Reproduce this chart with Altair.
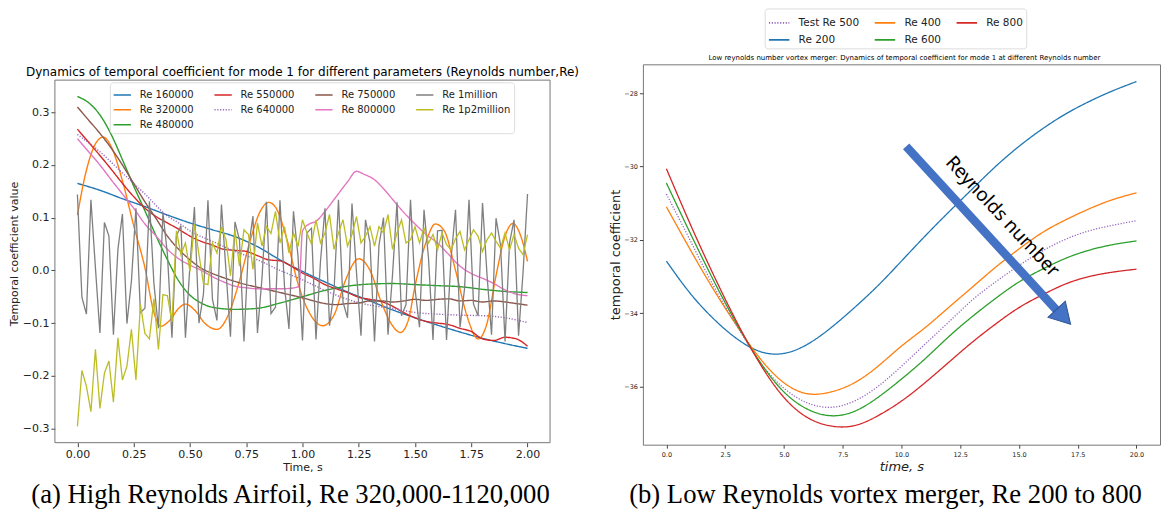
import altair as alt
import pandas as pd

# ---------------- Left panel: high Reynolds airfoil ----------------
left_title = "Dynamics of temporal coefficient for mode 1 for different parameters (Reynolds number,Re)"
caption_a = "(a) High Reynolds Airfoil, Re 320,000-1120,000"

legend_order_left = ["Re 160000", "Re 550000", "Re 750000", "Re 1million",
                     "Re 320000", "Re 640000", "Re 800000", "Re 1p2million",
                     "Re 480000"]
legend_colors_left = ["#1f77b4", "#d62728", "#8c564b", "#7f7f7f",
                      "#ff7f0e", "#9467bd", "#e377c2", "#bcbd22",
                      "#2ca02c"]
legend_dash_left = [[1, 0], [1, 0], [1, 0], [1, 0],
                    [1, 0], [1.2, 1.6], [1, 0], [1, 0],
                    [1, 0]]

re160_t = [0, 0.1, 0.2, 0.3, 0.4, 0.5, 0.6, 0.7, 0.8, 0.9, 1.0, 1.1, 1.2, 1.3, 1.4, 1.5, 1.6, 1.7, 1.8, 1.9, 2.0]
re160_v = [0.165, 0.152, 0.136, 0.121, 0.105, 0.090, 0.077, 0.064, 0.045, 0.020, -0.002, -0.022, -0.041,
           -0.058, -0.075, -0.090, -0.104, -0.117, -0.129, -0.139, -0.148]

re320_t = [0, 0.04, 0.08, 0.115, 0.15, 0.2, 0.25, 0.3, 0.34, 0.37, 0.41, 0.45, 0.48, 0.52, 0.57, 0.62,
           0.67, 0.72, 0.77, 0.81, 0.85, 0.88, 0.93, 0.98, 1.03, 1.09, 1.14, 1.19, 1.25, 1.30, 1.35,
           1.40, 1.435, 1.47, 1.50, 1.55, 1.59, 1.63, 1.68, 1.73, 1.78, 1.82, 1.86, 1.90, 1.935, 1.97, 2.0]
re320_v = [0.105, 0.19, 0.24, 0.253, 0.235, 0.17, 0.085, 0.005, -0.08, -0.106, -0.095, -0.072, -0.064,
           -0.075, -0.102, -0.112, -0.085, -0.02, 0.06, 0.11, 0.129, 0.12, 0.06, -0.025, -0.08, -0.105,
           -0.085, -0.02, 0.022, 0.0, -0.06, -0.105, -0.118, -0.095, -0.03, 0.055, 0.088, 0.075, 0.0,
           -0.085, -0.13, -0.10, -0.01, 0.065, 0.089, 0.065, 0.017]

re480_t = [0, 0.05, 0.1, 0.15, 0.2, 0.25, 0.3, 0.35, 0.4, 0.45, 0.5, 0.55, 0.6, 0.7, 0.8, 0.9, 1.0,
           1.1, 1.2, 1.3, 1.4, 1.5, 1.6, 1.7, 1.8, 1.9, 2.0]
re480_v = [0.330, 0.318, 0.295, 0.258, 0.210, 0.160, 0.113, 0.065, 0.020, -0.020, -0.047, -0.062, -0.070,
           -0.074, -0.072, -0.062, -0.050, -0.038, -0.030, -0.026, -0.025, -0.027, -0.029, -0.031,
           -0.036, -0.040, -0.042]

re550_t = [0, 0.05, 0.1, 0.15, 0.2, 0.25, 0.3, 0.35, 0.4, 0.45, 0.5, 0.55, 0.6, 0.65, 0.7, 0.75, 0.8,
           0.85, 0.9, 0.95, 1.0, 1.05, 1.1, 1.15, 1.2, 1.25, 1.3, 1.35, 1.4, 1.45, 1.5, 1.55, 1.6, 1.65,
           1.7, 1.75, 1.8, 1.85, 1.9, 1.95, 2.0]
re550_v = [0.268, 0.243, 0.218, 0.192, 0.165, 0.140, 0.118, 0.102, 0.090, 0.078, 0.065, 0.055, 0.048,
           0.040, 0.038, 0.036, 0.028, 0.020, 0.018, 0.008, -0.005, -0.015, -0.027, -0.035, -0.042,
           -0.051, -0.055, -0.059, -0.068, -0.080, -0.090, -0.097, -0.100, -0.103, -0.110, -0.116,
           -0.130, -0.133, -0.127, -0.130, -0.144]

re640_t = [0, 0.1, 0.2, 0.3, 0.4, 0.45, 0.5, 0.6, 0.7, 0.8, 0.9, 1.0, 1.1, 1.2, 1.3, 1.4, 1.5, 1.6,
           1.7, 1.8, 1.9, 2.0]
re640_v = [0.258, 0.225, 0.185, 0.145, 0.103, 0.090, 0.075, 0.055, 0.036, 0.020, 0.000, -0.018,
           -0.038, -0.055, -0.066, -0.072, -0.080, -0.083, -0.085, -0.086, -0.090, -0.099]

re750_t = [0, 0.05, 0.1, 0.15, 0.2, 0.25, 0.3, 0.35, 0.4, 0.45, 0.5, 0.55, 0.6, 0.65, 0.7, 0.75, 0.8,
           0.85, 0.9, 0.95, 1.0, 1.05, 1.1, 1.15, 1.2, 1.25, 1.3, 1.35, 1.4, 1.45, 1.5, 1.55, 1.6,
           1.65, 1.7, 1.75, 1.8, 1.85, 1.9, 1.95, 2.0]
re750_v = [0.310, 0.285, 0.260, 0.232, 0.200, 0.165, 0.130, 0.098, 0.065, 0.040, 0.020, 0.004, -0.006,
           -0.014, -0.021, -0.027, -0.032, -0.037, -0.042, -0.047, -0.052, -0.058, -0.063, -0.065,
           -0.063, -0.062, -0.058, -0.058, -0.060, -0.058, -0.055, -0.057, -0.055, -0.054, -0.058,
           -0.057, -0.060, -0.058, -0.060, -0.063, -0.066]

re800_t = [0, 0.05, 0.1, 0.15, 0.2, 0.25, 0.3, 0.35, 0.4, 0.45, 0.5, 0.55, 0.6, 0.65, 0.7, 0.75, 0.8,
           0.85, 0.9, 0.95, 0.985, 1.0, 1.03, 1.06, 1.1, 1.15, 1.2, 1.24, 1.27, 1.32, 1.36, 1.4, 1.45,
           1.5, 1.55, 1.6, 1.65, 1.7, 1.75, 1.8, 1.85, 1.9, 1.95, 2.0]
re800_v = [0.250, 0.225, 0.200, 0.172, 0.145, 0.118, 0.088, 0.065, 0.040, 0.022, 0.010, 0.000, -0.012,
           -0.022, -0.030, -0.033, -0.035, -0.035, -0.035, -0.034, -0.030, 0.075, 0.088, 0.093, 0.112,
           0.140, 0.168, 0.188, 0.183, 0.172, 0.155, 0.135, 0.110, 0.088, 0.068, 0.052, 0.030, 0.008,
           -0.006, -0.015, -0.025, -0.037, -0.045, -0.048]

sample_t = [round(0.02 * i, 2) for i in range(101)]
re1m_v = [0.144, -0.051, -0.083, 0.134, 0.005, -0.119, 0.091, 0.065, -0.122, 0.040,
          0.107, -0.101, -0.020, 0.118, -0.080, -0.072, 0.131, -0.025, -0.110, 0.110,
          0.030, -0.128, 0.065, 0.085, -0.128, 0.010, 0.120, -0.100, -0.045, 0.133,
          -0.055, -0.095, 0.125, 0.000, -0.126, 0.092, 0.058, -0.135, 0.043, 0.103,
          -0.119, -0.015, 0.130, -0.082, -0.070, 0.133, -0.030, -0.111, 0.112, 0.028,
          -0.133, 0.071, 0.080, -0.131, 0.017, 0.118, -0.105, -0.040, 0.134, -0.060,
          -0.090, 0.127, -0.004, -0.124, 0.096, 0.053, -0.135, 0.048, 0.100, -0.122,
          -0.009, 0.129, -0.086, -0.065, 0.134, -0.035, -0.108, 0.115, 0.023, -0.132,
          0.075, 0.076, -0.132, 0.022, 0.115, -0.108, -0.035, 0.134, -0.064, -0.086,
          0.128, -0.009, -0.122, 0.099, 0.048, -0.135, 0.052, 0.096, -0.124, -0.004,
          0.145]
re12m_v = [-0.296, -0.190, -0.220, -0.268, -0.150, -0.262, -0.195, -0.172, -0.250, -0.128,
           -0.208, -0.182, -0.112, -0.208, -0.065, -0.120, -0.130, -0.054, -0.150, -0.046,
           -0.048, -0.098, 0.075, 0.030, 0.052, -0.002, 0.088, 0.030, -0.025, -0.027,
           0.052, 0.033, 0.083, 0.058, -0.010, 0.077, 0.008, 0.077, 0.068, 0.002,
           0.090, 0.046, 0.083, 0.070, 0.112, 0.052, 0.083, 0.033, 0.071, 0.045,
           0.096, 0.071, 0.050, 0.096, 0.052, 0.071, 0.106, 0.040, 0.071, 0.096,
           0.046, 0.068, 0.102, 0.052, 0.065, 0.083, 0.046, 0.083, 0.071, 0.106,
           0.040, 0.071, 0.096, 0.052, 0.058, 0.083, 0.052, 0.080, 0.052, 0.068,
           0.039, 0.071, 0.049, 0.039, 0.060, 0.074, 0.039, 0.058, 0.077, 0.065,
           0.036, 0.058, 0.071, 0.055, 0.042, 0.071, 0.039, 0.068, 0.042, 0.030,
           0.068]

# ---------------- Right panel: low Reynolds vortex merger ----------------
right_title = ("Low reynolds number vortex merger: Dynamics of temporal coefficient "
               "for mode 1 at different Reynolds number")
caption_b = "(b) Low Reynolds vortex merger, Re 200 to 800"
legend_order_right = ["Test Re 500", "Re 400", "Re 800", "Re 200", "Re 600"]
legend_colors_right = ["#9467bd", "#ff7f0e", "#d62728", "#1f77b4", "#2ca02c"]
legend_dash_right = [[1.2, 1.6], [1, 0], [1, 0], [1, 0], [1, 0]]

low_t = [0, 1, 2, 3, 4, 5, 6, 7, 8, 9, 10, 11, 12, 13, 14, 15, 16, 17, 18, 19, 20]
re200_v = [-32.58, -33.45, -34.15, -34.70, -35.05, -35.10, -34.85, -34.40, -33.85, -33.25, -32.58,
           -31.90, -31.25, -30.62, -30.00, -29.45, -28.97, -28.56, -28.22, -27.93, -27.68]
re400_v = [-31.10, -32.25, -33.35, -34.35, -35.25, -35.90, -36.20, -36.15, -35.90, -35.45, -34.90,
           -34.40, -33.85, -33.30, -32.75, -32.25, -31.80, -31.45, -31.15, -30.90, -30.72]
re500_v = [-30.75, -32.00, -33.25, -34.35, -35.35, -36.05, -36.45, -36.57, -36.40, -36.00, -35.45,
           -34.85, -34.25, -33.65, -33.15, -32.70, -32.30, -31.98, -31.75, -31.60, -31.48]
re600_v = [-30.45, -31.80, -33.10, -34.30, -35.35, -36.15, -36.62, -36.80, -36.68, -36.30, -35.80,
           -35.25, -34.65, -34.10, -33.60, -33.15, -32.80, -32.50, -32.28, -32.13, -32.03]
re800b_v = [-30.06, -31.55, -32.95, -34.25, -35.40, -36.30, -36.85, -37.08, -37.07, -36.80, -36.40,
            -35.90, -35.35, -34.80, -34.30, -33.85, -33.50, -33.20, -33.00, -32.88, -32.80]

arrow_start = [10.2, -29.45]
arrow_end = [16.6, -33.92]
arrow_head = [16.9, -34.1]
arrow_label = ["Reynolds number"]
arrow_label_pos = [14.3, -31.36]

FONT = "DejaVu Sans"

# ---------- build tables ----------
rows = []
for name, ts, vs in [("Re 160000", re160_t, re160_v), ("Re 320000", re320_t, re320_v),
                     ("Re 480000", re480_t, re480_v), ("Re 550000", re550_t, re550_v),
                     ("Re 640000", re640_t, re640_v), ("Re 750000", re750_t, re750_v),
                     ("Re 800000", re800_t, re800_v)]:
    for i, (t, v) in enumerate(zip(ts, vs)):
        rows.append({"t": t, "v": v, "series": name, "i": i})
smooth_df = pd.DataFrame(rows)

rows = []
for name, vs in [("Re 1million", re1m_v), ("Re 1p2million", re12m_v)]:
    for i, (t, v) in enumerate(zip(sample_t, vs)):
        rows.append({"t": t, "v": v, "series": name, "i": i})
zig_df = pd.DataFrame(rows)

rows = []
for name, vs in [("Re 200", re200_v), ("Re 400", re400_v), ("Test Re 500", re500_v),
                 ("Re 600", re600_v), ("Re 800", re800b_v)]:
    for i, (t, v) in enumerate(zip(low_t, vs)):
        rows.append({"t": t, "v": v, "series": name, "i": i})
low_df = pd.DataFrame(rows)

# ---------- left chart ----------
LW, LH = 496, 379
LXD = [-0.1, 2.1]
LYD = [-0.327, 0.391]          # axes box spans -0.327 .. 0.361; headroom above holds the title
left_box = [-0.1, 2.1, -0.327, 0.361]
lx = alt.X("t:Q", scale=alt.Scale(domain=LXD, nice=False, zero=False),
           axis=alt.Axis(values=[0, 0.25, 0.5, 0.75, 1.0, 1.25, 1.5, 1.75, 2.0], format=".2f",
                         title="Time, s", labelFontSize=11, titleFontSize=11,
                         titleFontWeight="normal", labelFont=FONT, titleFont=FONT,
                         labelColor="#222", titleColor="#222", domain=False, grid=False,
                         tickSize=4, tickColor="#444", labelPadding=2, titlePadding=2))
ly = alt.Y("v:Q", scale=alt.Scale(domain=LYD, nice=False, zero=False),
           axis=alt.Axis(values=[-0.3, -0.2, -0.1, 0.0, 0.1, 0.2, 0.3], format=".1f",
                         title="Temporal coefficient value", labelFontSize=11, titleFontSize=11,
                         titleFontWeight="normal", labelFont=FONT, titleFont=FONT,
                         labelColor="#222", titleColor="#222", domain=False, grid=False,
                         tickSize=4, tickColor="#444", labelPadding=2, titlePadding=3))
leg_left = alt.Legend(title=None, orient="none", legendX=55, legendY=18, columns=4,
                      direction="horizontal",
                      symbolType="stroke", symbolSize=300, symbolStrokeWidth=1.6,
                      labelFontSize=10, labelFont=FONT, labelColor="#222",
                      columnPadding=16, rowPadding=-2, padding=3, strokeColor="#dddddd",
                      fillColor="white", cornerRadius=3, labelOffset=8)
lcolor = alt.Color("series:N", scale=alt.Scale(domain=legend_order_left, range=legend_colors_left),
                   legend=leg_left)
ldash = alt.StrokeDash("series:N", scale=alt.Scale(domain=legend_order_left, range=legend_dash_left),
                       legend=leg_left)

frame_a = alt.Chart(pd.DataFrame({"x": [left_box[0]], "x2": [left_box[1]],
                                  "y": [left_box[2]], "y2": [left_box[3]]})).mark_rect(
    fillOpacity=0, stroke="#777", strokeWidth=1).encode(
    x=alt.X("x:Q", scale=alt.Scale(domain=LXD, nice=False, zero=False)), x2="x2:Q",
    y=alt.Y("y:Q", scale=alt.Scale(domain=LYD, nice=False, zero=False)), y2="y2:Q")
left_smooth = alt.Chart(smooth_df).mark_line(strokeWidth=1.4, interpolate="monotone").encode(
    x=lx, y=ly, color=lcolor, strokeDash=ldash, order="i:Q")
left_zig = alt.Chart(zig_df).mark_line(strokeWidth=1.3).encode(
    x=lx, y=ly, color=lcolor, strokeDash=ldash, order="i:Q")
title_a = alt.Chart(pd.DataFrame({"s": [left_title]})).mark_text(
    font=FONT, fontSize=12, align="center", baseline="middle", color="black").encode(
    text="s:N", x=alt.value(LW / 2), y=alt.value(8))
cap_a = alt.Chart(pd.DataFrame({"c": [caption_a]})).mark_text(
    font="Liberation Serif", fontSize=26.7, align="center", baseline="middle", color="black").encode(
    text="c:N", x=alt.value(236), y=alt.value(431))

left = alt.layer(frame_a, left_smooth, left_zig, title_a, cap_a).properties(
    width=LW, height=LH, view=alt.ViewBackground(stroke="transparent"))

# ---------- right chart ----------
RW, RH = 518, 381
RXD = [-1, 21]
RYD = [-37.59, -27.21]
rx = alt.X("t:Q", scale=alt.Scale(domain=RXD, nice=False, zero=False),
           axis=alt.Axis(values=[0, 2.5, 5, 7.5, 10, 12.5, 15, 17.5, 20], format=".1f",
                         title="time, s", labelFontSize=6.5, titleFontSize=13, titleFontStyle="italic",
                         titleFontWeight="normal", labelFont=FONT, titleFont=FONT,
                         labelColor="#222", titleColor="#222", domain=False, grid=False,
                         tickSize=3.5, tickColor="#444", labelPadding=3, titlePadding=3))
ry = alt.Y("v:Q", scale=alt.Scale(domain=RYD, nice=False, zero=False),
           axis=alt.Axis(values=[-36, -34, -32, -30, -28], format="d",
                         title="temporal coefficient", labelFontSize=6.5, titleFontSize=13,
                         titleFontWeight="normal", labelFont=FONT, titleFont=FONT,
                         labelColor="#222", titleColor="#222", domain=False, grid=False,
                         tickSize=3.5, tickColor="#444", labelPadding=2, titlePadding=1))
leg_right = alt.Legend(title=None, orient="none", legendX=122, legendY=-56, columns=3,
                       direction="horizontal",
                       symbolType="stroke", symbolSize=420, symbolStrokeWidth=1.6,
                       labelFontSize=10.5, labelFont=FONT, labelColor="#222",
                       columnPadding=12, rowPadding=-2, padding=3, strokeColor="#dddddd",
                       fillColor="white", cornerRadius=3, labelOffset=8)
rcolor = alt.Color("series:N", scale=alt.Scale(domain=legend_order_right, range=legend_colors_right),
                   legend=leg_right)
rdash = alt.StrokeDash("series:N", scale=alt.Scale(domain=legend_order_right, range=legend_dash_right),
                       legend=leg_right)
right_lines = alt.Chart(low_df).mark_line(strokeWidth=1.3, interpolate="natural").encode(
    x=rx, y=ry, color=rcolor, strokeDash=rdash, order="i:Q")

arrow_df = pd.DataFrame({"x": [arrow_start[0]], "y": [arrow_start[1]],
                         "x2": [arrow_end[0]], "y2": [arrow_end[1]]})
arrow_shaft = alt.Chart(arrow_df).mark_rule(color="#4472c4", strokeWidth=8.5, strokeCap="butt").encode(
    x=alt.X("x:Q", scale=alt.Scale(domain=RXD, nice=False, zero=False)),
    y=alt.Y("y:Q", scale=alt.Scale(domain=RYD, nice=False, zero=False)),
    x2="x2:Q", y2="y2:Q")
head_df = pd.DataFrame({"x": [arrow_head[0]], "y": [arrow_head[1]]})
arrow_tip = alt.Chart(head_df).mark_point(shape="triangle-up", filled=True, size=560, angle=137,
                                          color="#4472c4", opacity=1, stroke="#2f528f",
                                          strokeWidth=1).encode(
    x=alt.X("x:Q", scale=alt.Scale(domain=RXD, nice=False, zero=False)),
    y=alt.Y("y:Q", scale=alt.Scale(domain=RYD, nice=False, zero=False)))
lab_df = pd.DataFrame({"x": [arrow_label_pos[0]], "y": [arrow_label_pos[1]], "s": arrow_label})
arrow_text = alt.Chart(lab_df).mark_text(font="Noto Sans", fontSize=19, angle=47, align="center",
                                         baseline="middle", color="black").encode(
    x=alt.X("x:Q", scale=alt.Scale(domain=RXD, nice=False, zero=False)),
    y=alt.Y("y:Q", scale=alt.Scale(domain=RYD, nice=False, zero=False)),
    text="s:N")
title_b = alt.Chart(pd.DataFrame({"s": [right_title]})).mark_text(
    font=FONT, fontSize=7, align="center", baseline="middle", color="black").encode(
    text="s:N", x=alt.value(262), y=alt.value(-6))
cap_b = alt.Chart(pd.DataFrame({"c": [caption_b]})).mark_text(
    font="Liberation Serif", fontSize=26.7, align="center", baseline="middle", color="black").encode(
    text="c:N", x=alt.value(243), y=alt.value(431))

right = alt.layer(right_lines, arrow_shaft, arrow_tip, arrow_text, title_b, cap_b).properties(
    width=RW, height=RH, view=alt.ViewBackground(stroke="#777", strokeWidth=1))

chart = alt.hconcat(left, right, spacing=29).resolve_scale(
    color="independent", strokeDash="independent", x="independent", y="independent"
).resolve_legend(color="independent", strokeDash="independent").properties(
    padding={"left": 7, "top": 7, "right": 0, "bottom": 0},
    background="white")

chart.save("out.html", embed_options={"renderer": "svg", "actions": False})
